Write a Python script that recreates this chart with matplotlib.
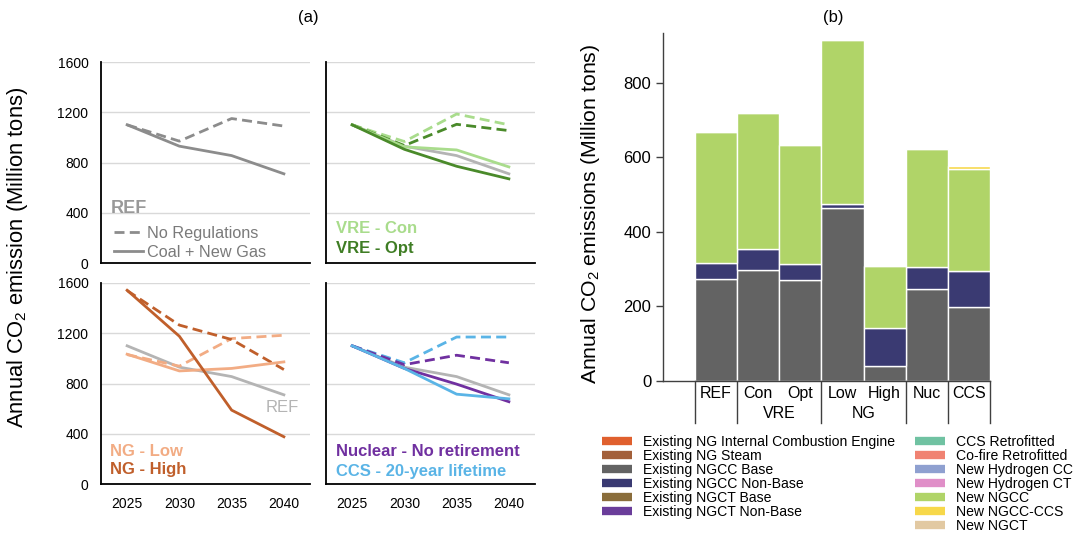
import numpy as np
import matplotlib
matplotlib.use("Agg")
import matplotlib.pyplot as plt
from matplotlib.lines import Line2D

plt.rcParams['font.family'] = ['Liberation Sans', 'DejaVu Sans']
plt.rcParams['mathtext.fontset'] = 'custom'
plt.rcParams['mathtext.rm'] = 'Liberation Sans'
plt.rcParams['mathtext.it'] = 'Liberation Sans:italic'

# ---- panel (a) data: annual CO2 emissions, million tons ----
years = ['2025', '2030', '2035', '2040']

ref_solid = [1100, 930, 855, 710]
ref_dash = [1100, 970, 1150, 1090]

vre_con_solid = [1100, 925, 900, 765]
vre_con_dash = [1100, 967, 1186, 1100]
vre_opt_solid = [1100, 905, 770, 670]
vre_opt_dash = [1100, 935, 1104, 1054]

ng_low_solid = [1033, 900, 920, 972]
ng_low_dash = [1030, 938, 1158, 1184]
ng_high_solid = [1542, 1176, 588, 376]
ng_high_dash = [1540, 1265, 1150, 911]

nuc_solid = [1100, 920, 795, 655]
nuc_dash = [1100, 950, 1025, 965]
ccs_solid = [1100, 920, 715, 678]
ccs_dash = [1100, 965, 1170, 1170]

# ---- panel (b) data ----
scenarios = ['REF', 'Con', 'Opt', 'Low', 'High', 'Nuc', 'CCS']
ngcc_base = [275, 298, 271, 464, 39, 248, 199]
ngcc_nonbase = [43, 57, 42, 12, 102, 57, 97]
new_ngcc = [351, 364, 321, 439, 168, 317, 274]
new_ngcc_ccs = [0, 0, 0, 0, 0, 0, 7]

legend_left = ['Existing NG Internal Combustion Engine', 'Existing NG Steam',
               'Existing NGCC Base', 'Existing NGCC Non-Base',
               'Existing NGCT Base', 'Existing NGCT Non-Base']
colors_left = ['#e0602e', '#a3603a', '#636363', '#3a3a72', '#8a6d3b', '#6a3d9a']
legend_right = ['CCS Retrofitted', 'Co-fire Retrofitted', 'New Hydrogen CC',
                'New Hydrogen CT', 'New NGCC', 'New NGCC-CCS', 'New NGCT']
colors_right = ['#70c2a2', '#f08272', '#8fa0d0', '#e08fc8', '#b0d468', '#f7d84a', '#e2c9a2']

GRAY_DARK = '#8c8c8c'
GRAY_REF = '#b4b4b4'
LW = 2.0
DASH = (0, (3.6, 1.9))

fig = plt.figure(figsize=(10.78, 5.36), dpi=100)

W, H = 1078.0, 536.0
def box(l, r, t, b):
    return [l / W, 1 - b / H, (r - l) / W, (b - t) / H]

ax_tl = fig.add_axes(box(101, 310, 62, 263))
ax_tr = fig.add_axes(box(326, 535, 62, 263))
ax_bl = fig.add_axes(box(101, 310, 283, 484))
ax_br = fig.add_axes(box(326, 535, 283, 484))

x = np.arange(len(years))
for ax in [ax_tl, ax_tr, ax_bl, ax_br]:
    ax.set_xlim(-0.5, 3.5)
    ax.set_ylim(0, 1600)
    ax.set_yticks([0, 400, 800, 1200, 1600])
    ax.set_xticks(x)
    ax.yaxis.grid(True, color='#d9d9d9', lw=1)
    ax.set_axisbelow(True)
    for s in ['top', 'right']:
        ax.spines[s].set_visible(False)
    for s in ['left', 'bottom']:
        ax.spines[s].set_color('black')
        ax.spines[s].set_linewidth(1.3)
    ax.tick_params(length=0, labelsize=10, pad=9)

for ax in [ax_tl, ax_bl]:
    ax.set_yticklabels(['0', '400', '800', '1200', '1600'])
for ax in [ax_tr, ax_br]:
    ax.set_yticklabels([])
for ax in [ax_tl, ax_tr]:
    ax.set_xticklabels([])
for ax in [ax_bl, ax_br]:
    ax.set_xticklabels(years)

# top-left: REF
ax_tl.plot(x, ref_dash, color=GRAY_DARK, lw=LW, ls=DASH, label='No Regulations')
ax_tl.plot(x, ref_solid, color=GRAY_DARK, lw=LW, label='Coal + New Gas')
ax_tl.text(0.048, 0.27, 'REF', transform=ax_tl.transAxes, color='#999999',
           fontsize=13, fontweight='bold', va='center')
ax_tl.legend(loc='lower left', bbox_to_anchor=(0.062, 0.015), frameon=False,
             fontsize=11.7, labelcolor='#7a7a7a', handlelength=1.8, handletextpad=0.25,
             labelspacing=0.27, borderpad=0, borderaxespad=0)

# top-right: VRE
ax_tr.plot(x, ref_solid, color=GRAY_REF, lw=LW)
ax_tr.plot(x, vre_con_dash, color='#a9dc8c', lw=LW, ls=DASH)
ax_tr.plot(x, vre_opt_dash, color='#4a8a2a', lw=LW, ls=DASH)
ax_tr.plot(x, vre_con_solid, color='#a9dc8c', lw=LW)
ax_tr.plot(x, vre_opt_solid, color='#4a8a2a', lw=LW)
ax_tr.text(0.048, 0.173, 'VRE - Con', transform=ax_tr.transAxes, color='#a9dc8c',
           fontsize=12, fontweight='bold', va='center')
ax_tr.text(0.048, 0.074, 'VRE - Opt', transform=ax_tr.transAxes, color='#3f7d24',
           fontsize=12, fontweight='bold', va='center')

# bottom-left: NG price
ax_bl.plot(x, ref_solid, color=GRAY_REF, lw=LW)
ax_bl.plot(x, ng_low_dash, color='#f2ac84', lw=LW, ls=DASH)
ax_bl.plot(x, ng_high_dash, color='#c05f2b', lw=LW, ls=DASH)
ax_bl.plot(x, ng_low_solid, color='#f2ac84', lw=LW)
ax_bl.plot(x, ng_high_solid, color='#c05f2b', lw=LW)
ax_bl.text(2.97, 610, 'REF', color=GRAY_REF, fontsize=12, ha='center', va='center')
ax_bl.text(0.045, 0.164, 'NG - Low', transform=ax_bl.transAxes, color='#f2ac84',
           fontsize=12, fontweight='bold', va='center')
ax_bl.text(0.045, 0.07, 'NG - High', transform=ax_bl.transAxes, color='#c05f2b',
           fontsize=12, fontweight='bold', va='center')

# bottom-right: nuclear / CCS
ax_br.plot(x, ref_solid, color=GRAY_REF, lw=LW)
ax_br.plot(x, ccs_dash, color='#5ab4e6', lw=LW, ls=DASH)
ax_br.plot(x, nuc_dash, color='#7030a0', lw=LW, ls=DASH)
ax_br.plot(x, nuc_solid, color='#7030a0', lw=LW)
ax_br.plot(x, ccs_solid, color='#5ab4e6', lw=LW)
ax_br.text(0.048, 0.16, 'Nuclear - No retirement', transform=ax_br.transAxes,
           color='#7030a0', fontsize=12, fontweight='bold', va='center')
ax_br.text(0.048, 0.06, 'CCS - 20-year lifetime', transform=ax_br.transAxes,
           color='#5ab4e6', fontsize=12, fontweight='bold', va='center')

fig.text(18 / W, 1 - 257 / H, 'Annual CO$_2$ emission (Million tons)', rotation=90,
         ha='center', va='center', fontsize=15.8)
fig.text(0.2857, 0.968, '(a)', ha='center', va='center', fontsize=12)
fig.text(0.7727, 0.968, '(b)', ha='center', va='center', fontsize=12)

# ---- panel (b) ----
axb = fig.add_axes(box(663, 990, 33, 381))
xb = np.arange(len(scenarios))
bottom = np.zeros(len(scenarios))
for vals, col in [(ngcc_base, '#636363'), (ngcc_nonbase, '#3a3a72'),
                  (new_ngcc, '#b0d468'), (new_ngcc_ccs, '#f7d84a')]:
    vals = np.array(vals, dtype=float)
    axb.bar(xb, vals, bottom=bottom, width=1.0, color=col, edgecolor='white', lw=1)
    bottom += vals

axb.set_xlim(-1.26, 6.5)
axb.set_ylim(0, 934)
axb.set_yticks([0, 200, 400, 600, 800])
axb.set_xticks([])
axb.tick_params(axis='y', labelsize=12, length=5, color='#404040', width=1)
for s in ['top', 'right']:
    axb.spines[s].set_visible(False)
for s in ['left', 'bottom']:
    axb.spines[s].set_color('#404040')
    axb.spines[s].set_linewidth(1)
fig.text(590 / W, 1 - 214 / H, 'Annual CO$_2$ emissions (Million tons)', rotation=90,
         ha='center', va='center', fontsize=15.3)

# category table under the bars
trans = axb.get_xaxis_transform()
for xs in [-0.5, 0.5, 2.5, 4.5, 5.5, 6.5]:
    axb.plot([xs, xs], [0, -0.12], transform=trans, color='#404040', lw=1, clip_on=False)
for i, s in enumerate(scenarios):
    axb.text(i, -0.036, s, transform=trans, ha='center', va='center', fontsize=11.5)
axb.text(1.5, -0.093, 'VRE', transform=trans, ha='center', va='center', fontsize=11.5)
axb.text(3.5, -0.093, 'NG', transform=trans, ha='center', va='center', fontsize=11.5)

h_left = [Line2D([], [], color=c, lw=6, solid_capstyle='butt') for c in colors_left]
h_right = [Line2D([], [], color=c, lw=6, solid_capstyle='butt') for c in colors_right]
common = dict(loc='upper left', frameon=False, fontsize=10.1, handlelength=2.15,
              handletextpad=0.75, labelspacing=0.0, borderpad=0, borderaxespad=0)
leg1 = fig.legend(h_left, legend_left, bbox_to_anchor=(602 / W, 1 - 435 / H), **common)
leg2 = fig.legend(h_right, legend_right, bbox_to_anchor=(915 / W, 1 - 435 / H), **common)

fig.savefig('out.png', dpi=100)
